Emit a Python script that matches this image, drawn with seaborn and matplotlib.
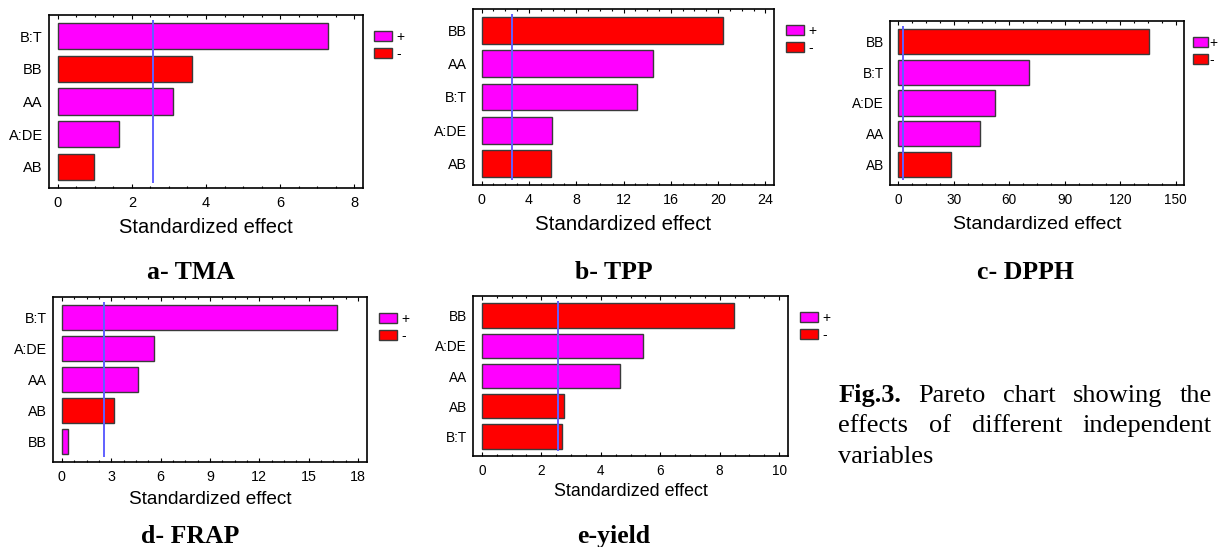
import matplotlib
matplotlib.use("Agg")
import matplotlib.pyplot as plt
from matplotlib.transforms import IdentityTransform
from matplotlib.ticker import MultipleLocator, AutoMinorLocator
from matplotlib.patches import Patch
import seaborn as sns
import pandas as pd

# ---------------- data ----------------
tma_terms = ["B:T", "BB", "AA", "A:DE", "AB"]
tma_values = [7.30, 3.62, 3.10, 1.64, 0.98]
tma_signs = ["+", "-", "+", "+", "-"]

tpp_terms = ["BB", "AA", "B:T", "A:DE", "AB"]
tpp_values = [20.4, 14.5, 13.1, 5.97, 5.85]
tpp_signs = ["-", "+", "+", "+", "-"]

dpph_terms = ["BB", "B:T", "A:DE", "AA", "AB"]
dpph_values = [135.5, 70.8, 52.5, 44.3, 28.5]
dpph_signs = ["-", "+", "+", "+", "-"]

frap_terms = ["B:T", "A:DE", "AA", "AB", "BB"]
frap_values = [16.7, 5.57, 4.64, 3.18, 0.38]
frap_signs = ["+", "+", "+", "-", "+"]

yield_terms = ["BB", "A:DE", "AA", "AB", "B:T"]
yield_values = [8.48, 5.41, 4.63, 2.76, 2.68]
yield_signs = ["-", "+", "+", "-", "-"]

captions = ["a- TMA", "b- TPP", "c- DPPH", "d- FRAP", "e-yield"]
x_major_steps = [2, 4, 30, 3, 2]
x_maxima = [8, 24, 150, 18, 10]
critical_t = 2.571
sign_levels = ["+", "-"]
xlabel_text = "Standardized effect"

# ---------------- style ----------------
sns.set_theme(style="white")
plt.rcParams["font.family"] = ["Liberation Sans", "DejaVu Sans"]
plt.rcParams.update({"text.color": "black", "axes.labelcolor": "black",
                     "xtick.color": "black", "ytick.color": "black"})
palette = {"+": "#FF00FF", "-": "#FF0000"}
W, H, DPI = 1220, 547, 100

fig = plt.figure(figsize=(W / DPI, H / DPI), dpi=DPI)
fig.patch.set_facecolor("white")


def box(l, t, r, b):
    return [l / W, 1 - b / H, (r - l) / W, (b - t) / H]


# pixel boxes (left, top, right, bottom), caption centre/baseline, font sizes
panels = [
    dict(terms=tma_terms, values=tma_values, signs=tma_signs, box=(49, 15, 363, 188),
         cap=(190.5, 279), tick=10.5, xl=14.5, lp=6.0, leg=(11, 1.3, 0.3)),
    dict(terms=tpp_terms, values=tpp_values, signs=tpp_signs, box=(473, 9, 774, 185),
         cap=(613.5, 279), tick=10.3, xl=14.8, lp=6.0, leg=(12, 1.3, 0.3)),
    dict(terms=dpph_terms, values=dpph_values, signs=dpph_signs, box=(890, 21, 1184, 185),
         cap=(1025, 279), tick=9.8, xl=14.0, lp=6.5, leg=(9, 1.05, 0.15)),
    dict(terms=frap_terms, values=frap_values, signs=frap_signs, box=(53, 297, 367, 462),
         cap=(190, 543), tick=10.3, xl=13.7, lp=5.0, leg=(12, 1.3, 0.3)),
    dict(terms=yield_terms, values=yield_values, signs=yield_signs, box=(473, 296, 788, 456),
         cap=(613.5, 543), tick=9.8, xl=12.9, lp=4.0, leg=(12, 1.3, 0.3)),
]

for i, p in enumerate(panels):
    ax = fig.add_axes(box(*p["box"]))
    df = pd.DataFrame({"term": p["terms"], "value": p["values"], "sign": p["signs"]})
    sns.barplot(data=df, x="value", y="term", hue="sign", order=p["terms"],
                hue_order=sign_levels, palette=palette, dodge=False, width=0.81,
                orient="h", saturation=1, errorbar=None, edgecolor="#3a3a3a",
                linewidth=1.0, legend=False, ax=ax)
    ax.vlines(critical_t, -0.5, len(p["terms"]) - 0.5, color="#6060ff", lw=1.4, zorder=5)
    xmax = x_maxima[i]
    pad = 0.03 * xmax
    ax.set_xlim(-pad, xmax + pad)
    ax.set_ylim(len(p["terms"]) - 0.35, -0.65)
    ax.xaxis.set_major_locator(MultipleLocator(x_major_steps[i]))
    ax.xaxis.set_minor_locator(AutoMinorLocator(4))
    ax.tick_params(axis="x", which="both", direction="in", top=True, bottom=True,
                   width=0.8, color="black", labelsize=p["tick"], pad=5.5)
    ax.tick_params(axis="x", which="major", length=3.0)
    ax.tick_params(axis="x", which="minor", length=1.6)
    ax.tick_params(axis="y", which="both", length=0, labelsize=p["tick"], pad=4.5)
    for s in ax.spines.values():
        s.set_visible(True)
        s.set_color("black")
        s.set_linewidth(1.2)
    ax.set_xlabel(xlabel_text, fontsize=p["xl"], labelpad=p["lp"], color="black")
    ax.set_ylabel("")
    ax.set_facecolor("white")
    handles = [Patch(facecolor=palette[s], edgecolor="#3a3a3a", linewidth=1.0) for s in sign_levels]
    l, t, r, b = p["box"]
    aw, ah = r - l, b - t
    gapx, hl, htp = p["leg"]
    ax.legend(handles, sign_levels, loc="upper left", frameon=False,
              bbox_to_anchor=(1 + gapx / aw, 1 - 15 / ah), borderaxespad=0, borderpad=0,
              handlelength=hl, handleheight=0.72, handletextpad=htp,
              labelspacing=0.2, fontsize=10, labelcolor="black")
    fig.text(p["cap"][0], H - p["cap"][1], captions[i], transform=IdentityTransform(),
             ha="center", va="baseline", fontsize=18.5, fontweight="bold", color="black",
             family=["Liberation Serif", "DejaVu Serif"])

# ---------------- justified note ----------------
note_lines = [
    ([("Fig.3.", "bold"), ("Pareto", "normal"), ("chart", "normal"), ("showing", "normal"), ("the", "normal")], True),
    ([("effects", "normal"), ("of", "normal"), ("different", "normal"), ("independent", "normal")], True),
    ([("variables", "normal")], False),
]
x0, x1 = 838.3, 1211.7
baselines = [401.7, 432.3, 462.7]
renderer = fig.canvas.get_renderer()
for (words, justify), yb in zip(note_lines, baselines):
    items = []
    for w, wt in words:
        t = fig.text(0, H - yb, w, transform=IdentityTransform(), ha="left", va="baseline",
                     fontsize=19, fontweight=wt, color="black",
                     family=["Liberation Serif", "DejaVu Serif"])
        items.append(t)
    widths = [t.get_window_extent(renderer).width for t in items]
    if justify and len(items) > 1:
        gap = (x1 - x0 - sum(widths)) / (len(items) - 1)
    else:
        gap = 5.0
    x = x0
    for t, w in zip(items, widths):
        t.set_x(x)
        x += w + gap

fig.savefig("out.png", dpi=DPI, facecolor="white")
